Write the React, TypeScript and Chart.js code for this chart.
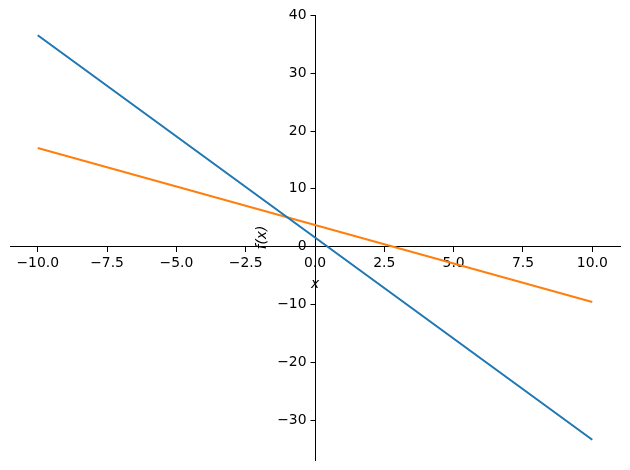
import React, { useEffect, useRef } from "react";
import { Chart, registerables } from "chart.js";

Chart.register(...registerables);

const xValues = [-10, 0, 10];
const blueValues = [36.5, 1.5, -33.5];
const orangeValues = [17, 3.67, -9.67];
const xTicks = [-10, -7.5, -5, -2.5, 0, 2.5, 5, 7.5, 10];
const yTicks = [-30, -20, -10, 0, 10, 20, 30, 40];
const xLabel = "x";
const yLabel = "f(x)";

const fmtX = (v: number) => {
  const s = v.toFixed(1);
  return v < 0 ? "\u2212" + s.slice(1) : s;
};
const fmtY = (v: number) => {
  const s = String(v);
  return v < 0 ? "\u2212" + s.slice(1) : s;
};

const FONT = "13.9px 'DejaVu Sans'";
const IFONT = "italic 13.9px 'DejaVu Sans'";

const yAxisPlugin = {
  id: "yAxisLeft",
  afterDraw(chart: any) {
    const ctx = chart.ctx;
    const ys = chart.scales.y;
    const xs = chart.scales.x;
    const ax = Math.round(xs.getPixelForValue(0)) + 0.5;
    ctx.save();
    ctx.strokeStyle = "#000";
    ctx.lineWidth = 1;
    ctx.fillStyle = "#000";
    ctx.font = FONT;
    ctx.textAlign = "right";
    ctx.textBaseline = "middle";
    for (const v of yTicks) {
      const py = Math.round(ys.getPixelForValue(v)) + 0.5;
      ctx.beginPath();
      ctx.moveTo(ax - 5, py);
      ctx.lineTo(ax, py);
      ctx.stroke();
      ctx.fillText(fmtY(v), ax - 9, py);
    }
    const cy = (chart.chartArea.top + chart.chartArea.bottom) / 2;
    ctx.translate(262, cy);
    ctx.rotate(-Math.PI / 2);
    ctx.font = IFONT;
    ctx.textAlign = "center";
    ctx.textBaseline = "middle";
    ctx.fillText(yLabel, 0, 0);
    ctx.restore();
  },
};

export default function App() {
  const ref = useRef<HTMLCanvasElement | null>(null);
  useEffect(() => {
    document.body.style.margin = "0";
    const ctx = ref.current!;
    const font = { family: "DejaVu Sans", size: 13.9 };
    const chart = new Chart(ctx, {
      type: "scatter",
      data: {
        datasets: [
          {
            data: xValues.map((x, i) => ({ x, y: blueValues[i] })),
            borderColor: "#1f77b4",
            borderWidth: 2.1,
            showLine: true,
            pointRadius: 0,
          },
          {
            data: xValues.map((x, i) => ({ x, y: orangeValues[i] })),
            borderColor: "#ff7f0e",
            borderWidth: 2.1,
            showLine: true,
            pointRadius: 0,
          },
        ],
      },
      plugins: [yAxisPlugin],
      options: {
        animation: false,
        responsive: false,
        layout: { padding: { left: 10, right: 10, top: 15, bottom: 10 } },
        plugins: { legend: { display: false }, tooltip: { enabled: false } },
        scales: {
          x: {
            type: "linear",
            position: { y: 0 } as any,
            min: -11,
            max: 11,
            afterBuildTicks: (s: any) => {
              s.ticks = xTicks.map((v) => ({ value: v }));
            },
            ticks: {
              callback: (v: any) => fmtX(Number(v)),
              color: "#000",
              font,
              padding: 4,
              maxRotation: 0,
              autoSkip: false,
            },
            grid: {
              drawOnChartArea: false,
              drawTicks: true,
              tickLength: 5,
              color: "#000",
              lineWidth: 1,
            },
            border: { display: true, color: "#000", width: 1 },
            title: {
              display: true,
              text: xLabel,
              color: "#000",
              font: { family: "DejaVu Sans", size: 13.9, style: "italic" },
              padding: { top: 0, bottom: 0 },
            },
          },
          y: {
            type: "linear",
            position: { x: 0 } as any,
            min: -37,
            max: 40,
            afterBuildTicks: (s: any) => {
              s.ticks = yTicks.map((v) => ({ value: v }));
            },
            ticks: { display: false },
            grid: {
              drawOnChartArea: false,
              drawTicks: false,
              tickLength: 0,
            },
            border: { display: true, color: "#000", width: 1 },
            title: { display: false },
          },
        },
      },
    });
    return () => chart.destroy();
  }, []);
  return (
    <div style={{ position: "absolute", left: 0, top: 0, width: 630, height: 470 }}>
      <canvas ref={ref} width={630} height={470} style={{ display: "block" }} />
    </div>
  );
}
